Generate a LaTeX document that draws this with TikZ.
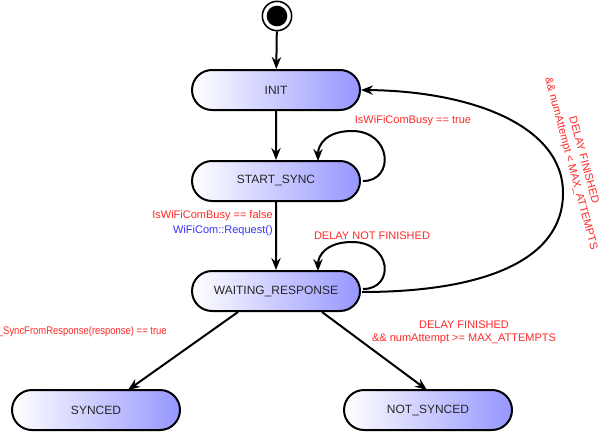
\documentclass[tikz,border=0pt]{standalone}
\usepackage{fontspec}
\setmainfont{Liberation Sans}
\usetikzlibrary{arrows.meta,shapes.misc}
\definecolor{stblue}{RGB}{150,150,255}
\definecolor{lblred}{RGB}{255,40,40}
\definecolor{lblblue}{RGB}{50,50,255}
\tikzset{
  state/.style={rounded rectangle, draw=black, line width=1.5pt, minimum width=126pt, minimum height=30pt,
    left color=white, right color=stblue, font=\fontsize{9pt}{11pt}\selectfont, text=black!85, inner sep=0pt},
  edge/.style={line width=1.5pt, -{Stealth[length=9pt,width=7pt,inset=3pt]}},
  lbl/.style={font=\fontsize{8.25pt}{10pt}\selectfont, text=lblred, inner sep=0pt}
}
\begin{document}
\begin{tikzpicture}[x=0.75pt,y=-0.75pt]
\useasboundingbox (0,0) rectangle (610,432);
\node[circle, draw=black, line width=1.2pt, fill=white, minimum size=22pt, inner sep=0pt] (start) at (277,16) {};
\node[circle, fill=black, minimum size=15.5pt, inner sep=0pt] (startin) at (277,16) {};
\node[state] (init) at (276,90) {INIT};
\node[state] (ss) at (276,181) {START\_SYNC};
\node[state] (wr) at (276,291) {WAITING\_RESPONSE};
\node[state] (sy) at (96,410) {SYNCED};
\node[state] (ns) at (428,410) {NOT\_SYNCED};

\coordinate (ssloop) at (363,181);
\coordinate (ssin) at (318,161);
\coordinate (wrloop) at (363,289);
\coordinate (wrin) at (318,271);
\coordinate (wrr) at (362,292);
\coordinate (right) at (563,193);
\coordinate (a1) at (238,312);
\coordinate (a2) at (128,390);
\coordinate (b1) at (322,312);
\coordinate (b2) at (427,390);

\draw[edge] (start) -- (init);
\draw[edge] (init) -- (ss);
\draw[edge] (ss) -- (wr);
\draw[edge] (ssloop) .. controls (395,181) and (392,131) .. (352,131) .. controls (326,131) and (318,145) .. (ssin);
\draw[edge] (wrloop) .. controls (395,289) and (392,242) .. (352,242) .. controls (326,242) and (318,256) .. (wrin);
\draw[line width=1.5pt] (wrr) .. controls (480,292) and (563,262) .. (right);
\draw[edge] (right) .. controls (563,125) and (470,91) .. (init.east);
\draw[edge] (a1) -- (a2);
\draw[edge] (b1) -- (b2);

\node[lbl] (l1) at (413,121) {IsWiFiComBusy == true};
\node[lbl, anchor=east] (l2) at (273,216) {IsWiFiComBusy == false};
\node[lbl, anchor=east, text=lblblue] (l3) at (273,231) {WiFiCom::Request()};
\node[lbl] (l4) at (372,236) {DELAY NOT FINISHED};
\node[lbl, anchor=east] (l5) at (167,332) {\scalebox{0.86}[1]{\_SyncFromResponse(response) == true}};
\node[lbl, align=center] (l6) at (464,332) {DELAY FINISHED\\\&\& numAttempt >= MAX\_ATTEMPTS};
\node[lbl, align=center, rotate=-75] (l7) at (577,162) {DELAY FINISHED\\\&\& numAttempt < MAX\_ATTEMPTS};
\end{tikzpicture}
\end{document}
